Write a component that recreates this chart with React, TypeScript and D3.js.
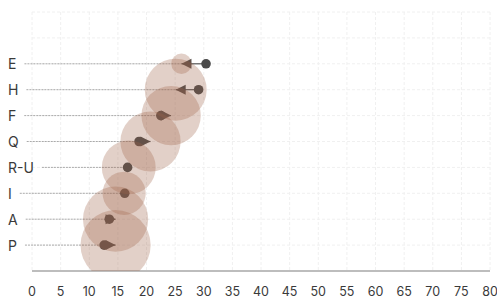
import React, { useEffect, useRef } from "react";
import * as d3 from "d3";

// rows from bottom to top
const categories = ["P", "A", "I", "R-U", "Q", "F", "H", "E"];
const startValues = [12.6, 13.5, 16.2, 16.7, 18.7, 22.5, 29.1, 30.4];
const endValues = [14.6, 14.6, 16.1, 16.9, 20.7, 24.3, 25.1, 26.1];
const sizeValues = [95, 82, 36, 56, 70, 68, 74, 8];
const xTicks = d3.range(0, 85, 5);

const width = 497;
const height = 298;
const margin = { top: 12, right: 7, bottom: 27, left: 32 };

export default function App() {
  const ref = useRef<SVGSVGElement>(null);

  useEffect(() => {
    const svg = d3.select(ref.current);
    svg.selectAll("*").remove();

    const x = d3.scaleLinear().domain([0, 80]).range([margin.left, width - margin.right]);
    const y = d3.scaleLinear().domain([0, 10]).range([height - margin.bottom, margin.top]);
    const r = d3.scaleSqrt().domain([0, 100]).range([0, 36]);

    const rows = categories.map((c, i) => ({
      name: c,
      pos: i + 1,
      start: startValues[i],
      end: endValues[i],
      size: sizeValues[i],
    }));

    svg.append("defs")
      .append("clipPath")
      .attr("id", "plot-clip")
      .append("rect")
      .attr("x", margin.left)
      .attr("y", margin.top)
      .attr("width", width - margin.left - margin.right)
      .attr("height", height - margin.top - margin.bottom);

    // grid
    svg.append("g")
      .selectAll("line")
      .data(xTicks)
      .join("line")
      .attr("x1", d => x(d))
      .attr("x2", d => x(d))
      .attr("y1", y(10))
      .attr("y2", y(0))
      .attr("stroke", "#f0f0f0")
      .attr("stroke-dasharray", "3,2");

    svg.append("g")
      .selectAll("line")
      .data(d3.range(1, 11))
      .join("line")
      .attr("x1", x(0))
      .attr("x2", x(80))
      .attr("y1", d => y(d))
      .attr("y2", d => y(d))
      .attr("stroke", "#f0f0f0")
      .attr("stroke-dasharray", "3,2");

    // axis
    svg.append("line")
      .attr("x1", x(0))
      .attr("x2", x(80))
      .attr("y1", y(0))
      .attr("y2", y(0))
      .attr("stroke", "#bdbdbd")
      .attr("stroke-width", 2);

    svg.append("g")
      .selectAll("text")
      .data(xTicks)
      .join("text")
      .attr("x", d => x(d))
      .attr("y", height - 2)
      .attr("text-anchor", "middle")
      .attr("font-size", 12.5)
      .attr("fill", "#3a3a3a")
      .text(d => d);

    // row labels
    const labels = svg.append("g")
      .selectAll("text")
      .data(rows)
      .join("text")
      .attr("x", 8)
      .attr("y", d => y(d.pos) + 5.5)
      .attr("font-size", 14)
      .attr("fill", "#3a3a3a")
      .text(d => d.name);

    const widths: number[] = [];
    labels.each(function () {
      widths.push((this as SVGTextElement).getComputedTextLength());
    });

    // leader lines
    svg.append("g")
      .selectAll("line")
      .data(rows)
      .join("line")
      .attr("x1", (d, i) => 8 + widths[i] + 8)
      .attr("x2", d => x(Math.min(d.start, d.end)))
      .attr("y1", d => y(d.pos))
      .attr("y2", d => y(d.pos))
      .attr("stroke", "#aaa")
      .attr("stroke-dasharray", "2,1");

    // arrow shafts
    svg.append("g")
      .selectAll("line")
      .data(rows)
      .join("line")
      .attr("x1", d => x(d.start))
      .attr("x2", d => x(d.end))
      .attr("y1", d => y(d.pos))
      .attr("y2", d => y(d.pos))
      .attr("stroke", "#555")
      .attr("stroke-width", 1.2);

    // start dots
    svg.append("g")
      .selectAll("circle")
      .data(rows)
      .join("circle")
      .attr("cx", d => x(d.start))
      .attr("cy", d => y(d.pos))
      .attr("r", 4.8)
      .attr("fill", "#4a4a4a");

    // arrow heads
    svg.append("g")
      .selectAll("path")
      .data(rows.filter(d => Math.abs(d.end - d.start) > 0.5))
      .join("path")
      .attr("d", d => {
        const tip = x(d.end);
        const dir = d.end > d.start ? 1 : -1;
        const base = tip - dir * 10;
        const cy = y(d.pos);
        return `M${tip},${cy}L${base},${cy - 5}L${base},${cy + 5}Z`;
      })
      .attr("fill", "#4a4a4a");

    // size bubbles on top
    svg.append("g")
      .attr("clip-path", "url(#plot-clip)")
      .selectAll("circle")
      .data(rows)
      .join("circle")
      .attr("cx", d => x(d.end))
      .attr("cy", d => y(d.pos))
      .attr("r", d => r(d.size))
      .attr("fill", "#a0644a")
      .attr("fill-opacity", 0.3);
  }, []);

  return (
    <svg
      ref={ref}
      width={width}
      height={height}
      style={{ position: "absolute", left: 0, top: 0, fontFamily: "Inter, sans-serif" }}
    />
  );
}
